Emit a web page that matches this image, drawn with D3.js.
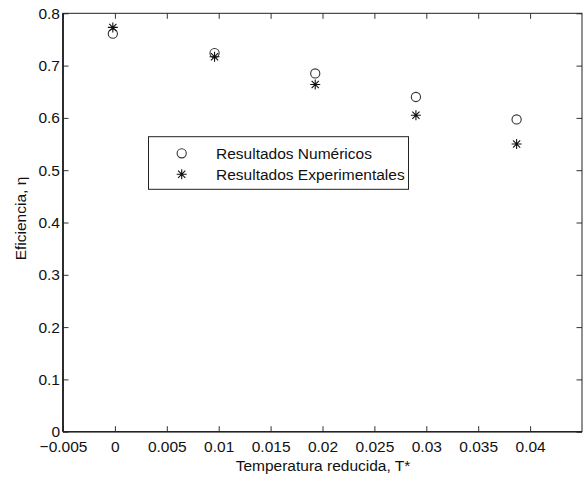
<!DOCTYPE html>
<html>
<head>
<meta charset="utf-8">
<script src="https://cdn.jsdelivr.net/npm/d3@7"></script>
<style>
  body { margin: 0; background: #fff; }
  text { font-family: "Liberation Sans", Arial, Helvetica, sans-serif; fill: #111; }
</style>
</head>
<body>
<script>
// datos
var temperatura = [-0.0002, 0.0096, 0.0193, 0.0290, 0.0387];
var numericos = [0.761, 0.724, 0.685, 0.640, 0.597];
var experimentales = [0.773, 0.717, 0.664, 0.605, 0.550];
var xTicks = [-0.005, 0, 0.005, 0.01, 0.015, 0.02, 0.025, 0.03, 0.035, 0.04];
var yTicks = [0, 0.1, 0.2, 0.3, 0.4, 0.5, 0.6, 0.7, 0.8];
var nombres = ['Resultados Numéricos', 'Resultados Experimentales'];

var W = 583, H = 477;
var mLeft = 63, mRight = 582, mTop = 13.3, mBottom = 431.7;
var fs = '15.5px';

var svg = d3.select('body').append('svg')
	.attr('width', W)
	.attr('height', H);

var x = d3.scaleLinear().domain([-0.005, 0.045]).range([mLeft, mRight]);
var y = d3.scaleLinear().domain([0, 0.8]).range([mBottom, mTop]);

function fmt(d){
	if(d == 0) return '0';
	return String(d).replace('-', '\u2212');
}

// ejes con ticks hacia dentro
var xAxis = d3.axisBottom(x).tickValues(xTicks).tickSize(-5.5).tickPadding(9).tickFormat(fmt);
var yAxis = d3.axisLeft(y).tickValues(yTicks).tickSize(-5.5).tickPadding(3).tickFormat(fmt);

svg.append('g').attr('transform', 'translate(0,' + mBottom + ')').call(xAxis);
svg.append('g').attr('transform', 'translate(' + mLeft + ',0)').call(yAxis);

// ticks arriba y a la derecha
svg.append('g').attr('transform', 'translate(0,' + mTop + ')')
	.call(d3.axisTop(x).tickValues(xTicks).tickSize(-5.5).tickFormat(''));
svg.append('g').attr('transform', 'translate(' + mRight + ',0)')
	.call(d3.axisRight(y).tickValues(yTicks).tickSize(-5.5).tickFormat(''));

svg.selectAll('.domain').remove();
svg.selectAll('.tick line').attr('stroke', '#333').attr('stroke-width', 1);
svg.selectAll('.tick text').attr('font-size', fs).attr('fill', '#111')
	.attr('font-family', '"Liberation Sans", Arial, sans-serif');

// caja
svg.append('rect')
	.attr('x', mLeft).attr('y', mTop)
	.attr('width', mRight - mLeft).attr('height', mBottom - mTop)
	.attr('fill', 'none').attr('stroke', '#222').attr('stroke-width', 1);
svg.append('line').attr('x1', mLeft).attr('x2', mLeft).attr('y1', mTop).attr('y2', mBottom)
	.attr('stroke', '#222').attr('stroke-width', 1.8);
svg.append('line').attr('x1', mLeft).attr('x2', mRight).attr('y1', mBottom).attr('y2', mBottom)
	.attr('stroke', '#222').attr('stroke-width', 1.4);

// etiquetas
svg.append('text')
	.attr('x', 323)
	.attr('y', 471)
	.attr('text-anchor', 'middle')
	.attr('font-size', fs)
	.text('Temperatura reducida, T*');

svg.append('text')
	.attr('transform', 'translate(26,' + ((mTop + mBottom) / 2 - 4) + ') rotate(-90)')
	.attr('text-anchor', 'middle')
	.attr('font-size', fs)
	.text('Eficiencia, \u03B7');

function star(g, cx, cy){
	var a = 5, b = 3.6;
	g.append('path')
		.attr('d', 'M' + (cx - a) + ',' + cy + 'H' + (cx + a) +
			'M' + cx + ',' + (cy - a) + 'V' + (cy + a) +
			'M' + (cx - b) + ',' + (cy - b) + 'L' + (cx + b) + ',' + (cy + b) +
			'M' + (cx - b) + ',' + (cy + b) + 'L' + (cx + b) + ',' + (cy - b))
		.attr('stroke', '#111').attr('stroke-width', 1.1).attr('fill', 'none');
}

var pts = svg.append('g');
pts.selectAll('circle')
	.data(temperatura)
	.enter()
	.append('circle')
	.attr('cx', function(d){ return x(d); })
	.attr('cy', function(d, i){ return y(numericos[i]); })
	.attr('r', 4.6)
	.attr('fill', 'none')
	.attr('stroke', '#333')
	.attr('stroke-width', 1.1);

temperatura.forEach(function(d, i){
	star(pts, x(d), y(experimentales[i]));
});

// leyenda
var lg = svg.append('g');
lg.append('rect')
	.attr('x', 148.5).attr('y', 136.7)
	.attr('width', 260).attr('height', 52.6)
	.attr('fill', '#fff').attr('stroke', '#222').attr('stroke-width', 1);
lg.append('circle')
	.attr('cx', 181.7).attr('cy', 153.3).attr('r', 4.6)
	.attr('fill', 'none').attr('stroke', '#333').attr('stroke-width', 1.1);
star(lg, 181.7, 174.3);
lg.selectAll('text.leg')
	.data(nombres)
	.enter()
	.append('text')
	.attr('class', 'leg')
	.attr('x', 216)
	.attr('y', function(d, i){ return 153.3 + i * 21 + 5.5; })
	.attr('font-size', fs)
	.text(function(d){ return d; });
</script>
</body>
</html>
